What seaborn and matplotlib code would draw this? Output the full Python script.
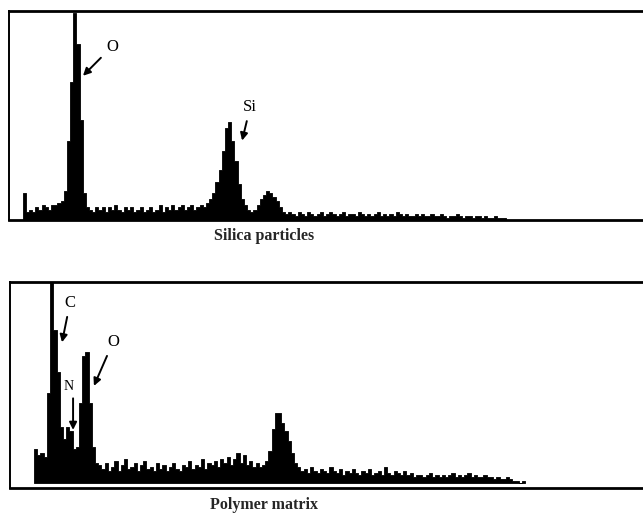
import numpy as np
import pandas as pd
import matplotlib
matplotlib.use("Agg")
import matplotlib.pyplot as plt
import seaborn as sns

# EDX spectra: counts per channel (arbitrary units, 100 = full scale)
silica_e0, silica_step = 0.12, 0.025      # keV
silica_counts = [
    13, 4, 5, 4, 6, 5, 7, 6, 5, 7,
    7, 8, 9, 14, 38, 66, 99, 84, 48, 13,
    6, 5, 4, 6, 5, 6, 4, 6, 5, 7,
    5, 4, 6, 5, 6, 4, 5, 6, 4, 5,
    6, 4, 5, 7, 4, 6, 5, 7, 5, 6,
    7, 5, 6, 7, 5, 6, 7, 6, 8, 10,
    13, 18, 24, 33, 44, 47, 38, 28, 17, 10,
    7, 5, 4, 5, 7, 10, 12, 14, 13, 11,
    9, 6, 4, 3, 4, 3, 2, 4, 3, 2,
    4, 3, 2, 3, 4, 2, 3, 4, 3, 2,
    3, 4, 2, 3, 3, 2, 4, 3, 2, 3,
    2, 3, 4, 2, 3, 2, 3, 2, 4, 3,
    2, 3, 2, 2, 3, 2, 3, 2, 2, 3,
    2, 2, 3, 2, 1, 2, 2, 3, 2, 1,
    2, 2, 1, 2, 2, 1, 2, 1, 1, 2,
    1, 1, 1,
]

polymer_e0, polymer_step = 0.21, 0.02     # keV
polymer_counts = [
    17, 14, 15, 13, 45, 130, 76, 55, 28, 22,
    28, 26, 17, 18, 40, 63, 65, 40, 18, 10,
    9, 7, 10, 6, 8, 11, 6, 9, 12, 7,
    8, 10, 6, 9, 11, 7, 8, 6, 10, 7,
    9, 6, 8, 10, 7, 6, 9, 8, 11, 7,
    9, 8, 12, 7, 10, 9, 11, 8, 12, 10,
    13, 9, 12, 15, 10, 14, 9, 11, 8, 10,
    8, 9, 11, 16, 27, 35, 35, 30, 26, 21,
    15, 10, 8, 6, 7, 5, 8, 6, 5, 7,
    6, 5, 8, 6, 5, 7, 4, 6, 5, 7,
    5, 4, 6, 5, 7, 4, 5, 6, 4, 8,
    5, 4, 6, 5, 4, 6, 4, 5, 3, 4,
    4, 3, 4, 5, 3, 4, 3, 4, 3, 4,
    5, 3, 4, 3, 4, 5, 3, 4, 3, 3,
    4, 3, 3, 2, 3, 2, 2, 3, 2, 1,
    1, 0, 1,
]

titles = ["Silica particles", "Polymer matrix"]
silica_labels = ["O", "Si"]
polymer_labels = ["C", "N", "O"]

sns.set_style("white")
plt.rcParams["font.family"] = ["Liberation Serif", "DejaVu Serif"]

fig = plt.figure(figsize=(6.43, 5.27), dpi=100)
ax_top = fig.add_axes([9 / 643, 1 - 220 / 527, 645 / 643, 209 / 527])
ax_bot = fig.add_axes([10 / 643, 1 - 488 / 527, 650 / 643, 206 / 527])


def spectrum(ax, e0, step, counts, xlim, ylim):
    n = len(counts)
    energy = e0 + step * np.arange(n)
    df = pd.DataFrame({"energy": energy, "counts": counts})
    sns.histplot(data=df, x="energy", weights="counts", bins=n,
                 binrange=(e0 - step / 2, e0 + step * (n - 0.5)),
                 element="step", fill=True, color="black", alpha=1.0,
                 linewidth=0.6, ax=ax)
    ax.set_xlim(*xlim)
    ax.set_ylim(*ylim)
    ax.set_xticks([])
    ax.set_yticks([])
    ax.set_xlabel("")
    ax.set_ylabel("")
    for name, sp in ax.spines.items():
        sp.set_visible(True)
        sp.set_color("black")
        sp.set_linewidth(2.0 if name in ("top", "bottom") else 1.4)


spectrum(ax_top, silica_e0, silica_step, silica_counts, (0, 5.1), (0, 100))
spectrum(ax_bot, polymer_e0, polymer_step, polymer_counts, (0.05, 4.1), (-2.5, 100))

arrow = dict(arrowstyle="-|>", color="black", lw=1.4, mutation_scale=11,
             shrinkA=2, shrinkB=0)
label_kw = dict(fontsize=12, ha="center", va="center", color="black",
                arrowprops=arrow)

# peak labels on the silica spectrum
ax_top.annotate(silica_labels[0], xy=(0.585, 69), xytext=(0.815, 83), **label_kw)
ax_top.annotate(silica_labels[1], xy=(1.843, 38), xytext=(1.907, 54), **label_kw)

# peak labels on the polymer spectrum
ax_bot.annotate(polymer_labels[0], xy=(0.374, 70), xytext=(0.424, 89.6), **label_kw)
ax_bot.text(0.418, 47.8, polymer_labels[1], fontsize=10, ha="center",
            va="center", color="black")
ax_bot.annotate("", xy=(0.443, 26.4), xytext=(0.443, 43.5), arrowprops=arrow)
ax_bot.annotate(polymer_labels[2], xy=(0.573, 48.3), xytext=(0.692, 70.1), **label_kw)

fig.text(264 / 643, 1 - 236 / 527, titles[0], ha="center", va="center",
         fontsize=11.5, fontweight="bold")
fig.text(264 / 643, 1 - 505 / 527, titles[1], ha="center", va="center",
         fontsize=11.5, fontweight="bold")

fig.savefig("out.png", dpi=100, facecolor="white")
